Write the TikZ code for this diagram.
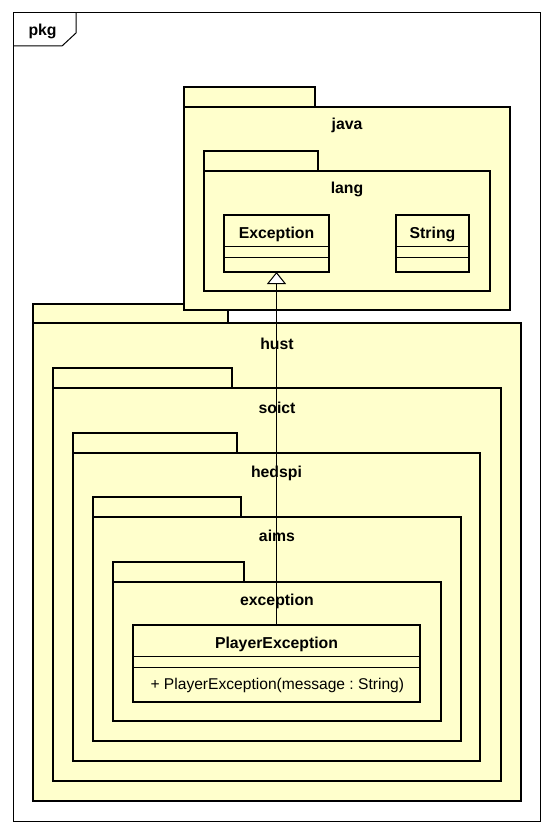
\documentclass[tikz,border=0pt]{standalone}
\usepackage{fontspec}
\setmainfont{Liberation Sans}
\usetikzlibrary{arrows.meta}
\definecolor{pkgfill}{HTML}{FFFFCC}
\tikzset{
  pkgline/.style={draw, line width=2.8pt, fill=pkgfill},
  clsbox/.style={draw, line width=2.8pt, fill=pkgfill, inner sep=0pt, outer sep=0pt},
  lbl/.style={anchor=base, font=\fontsize{15.8}{18}\selectfont\bfseries},
}

\begin{document}
\begin{tikzpicture}[x=1pt,y=-1pt]
\useasboundingbox (0,0) rectangle (553,834);
\draw[line width=1pt] (13,13) rectangle (540,821);
\draw[line width=1pt] (13,46) -- (62,46) -- (76,33) -- (76,13);
\node[lbl, anchor=base west] (frame) at (25,36) {pkg};

% packages: name/left/tab right/tab top/body top/right/bottom/label
\foreach \n/\xa/\xt/\yt/\yb/\xb/\ye/\yl in {hust/33/228/304/323/521/801/349,
    soict/53/232/368/388/501/781/413, hedspi/73/237/433/453/480/761/477,
    aims/93/241/497/517/461/741/541, exception/113/244/562/582/441/721/605,
    java/184/315/87/107/510/310/130, lang/204/318/151/171/490/291/194} {
  \draw[pkgline] (\xa,\yt) rectangle (\xt,\yb);
  \draw[pkgline] (\xa,\yb) rectangle (\xb,\ye);
  \node[lbl] (pkg-\n) at ({(\xa+\xb)/2},\yl) {\n};
}

% classes
\node[clsbox, minimum width=105pt, minimum height=57pt] (exc) at (276.5,243.5) {};
\node[lbl] (exc-name) at (exc |- 0,238) {Exception};
\node[clsbox, minimum width=73pt, minimum height=57pt] (str) at (432.5,243.5) {};
\node[lbl] (str-name) at (str |- 0,238) {String};
\foreach \y in {246,257} {
  \draw[line width=1pt] (224,\y) -- (329,\y);
  \draw[line width=1pt] (396,\y) -- (469,\y);
}
\node[clsbox, minimum width=287pt, minimum height=77pt] (pexc) at (276.5,663.5) {};
\node[lbl] (pexc-name) at (pexc |- 0,648) {PlayerException};
\foreach \y in {656,667}
  \draw[line width=1pt] (133,\y) -- (420,\y);
\node[anchor=base west, font=\fontsize{15.6}{18}\selectfont\frenchspacing] (pexc-op) at (147,689)
  {+ PlayerException(message : String)};

\draw[line width=1pt, -{Triangle[length=12pt, width=19pt, fill=white]}] (pexc.north) -- (exc.south);
\end{tikzpicture}
\end{document}
